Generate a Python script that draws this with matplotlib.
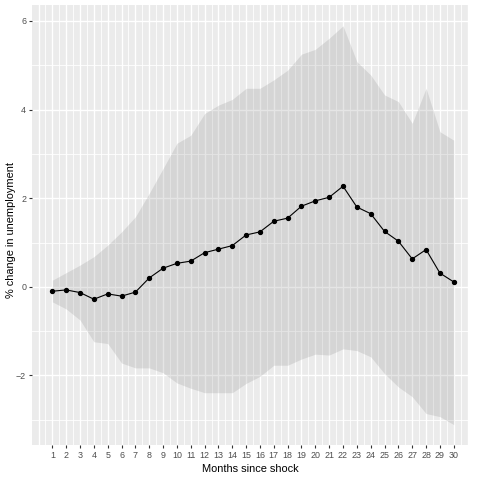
import numpy as np
import matplotlib
matplotlib.use('Agg')
import matplotlib.pyplot as plt

plt.rcParams['font.family'] = ['Liberation Sans', 'DejaVu Sans']

# 数据：冲击后的月份、点估计与置信区间上下界
months = list(range(1, 31))
estimate = [-0.10, -0.07, -0.13, -0.28, -0.16, -0.21, -0.12, 0.20, 0.42, 0.53,
            0.58, 0.77, 0.85, 0.93, 1.17, 1.24, 1.48, 1.55, 1.82, 1.94,
            2.02, 2.27, 1.80, 1.65, 1.25, 1.03, 0.63, 0.84, 0.31, 0.11]
upper = [0.15, 0.32, 0.49, 0.68, 0.94, 1.24, 1.58, 2.11, 2.67, 3.24,
         3.42, 3.91, 4.10, 4.23, 4.48, 4.48, 4.67, 4.89, 5.25, 5.36,
         5.61, 5.89, 5.08, 4.78, 4.33, 4.18, 3.69, 4.48, 3.50, 3.31]
lower = [-0.34, -0.50, -0.75, -1.24, -1.28, -1.72, -1.83, -1.83, -1.94, -2.17,
         -2.29, -2.39, -2.39, -2.39, -2.18, -2.02, -1.77, -1.77, -1.63, -1.52,
         -1.54, -1.40, -1.44, -1.58, -1.96, -2.26, -2.48, -2.86, -2.93, -3.11]
y_ticks = [-2, 0, 2, 4, 6]

fig = plt.figure(figsize=(4.8, 4.8), dpi=100)
ax = fig.add_axes([32/480, 35/480, 436/480, 440/480])
ax.set_facecolor('#EBEBEB')

# ggplot 风格网格线
for v in np.arange(0, 31.01, 0.5):
    major = float(v).is_integer()
    ax.axvline(v, color='white', lw=1.0 if major else 0.6, zorder=0)
for h in range(-3, 7):
    ax.axhline(h, color='white', lw=1.0 if h % 2 == 0 else 0.6, zorder=0)

ax.fill_between(months, lower, upper, color='grey', alpha=0.2, lw=0, zorder=1)
ax.plot(months, estimate, color='black', lw=0.8, zorder=2)
ax.scatter(months, estimate, color='black', s=8, zorder=3)

ax.set_xlim(-0.47, 31.03)
ax.set_ylim(-3.57, 6.36)
ax.set_xticks(months)
ax.set_yticks(y_ticks)
ax.tick_params(axis='both', length=2.2, width=0.8, color='#333333',
               labelsize=6.4, labelcolor='#4D4D4D', pad=2)
for s in ax.spines.values():
    s.set_visible(False)

ax.set_xlabel('Months since shock', fontsize=7.9, color='black', labelpad=3)
fig.text(11/480, 0.5 + 10/480, '% change in unemployment', fontsize=7.9,
         rotation=90, ha='center', va='center')

fig.savefig('out.png', dpi=100)
